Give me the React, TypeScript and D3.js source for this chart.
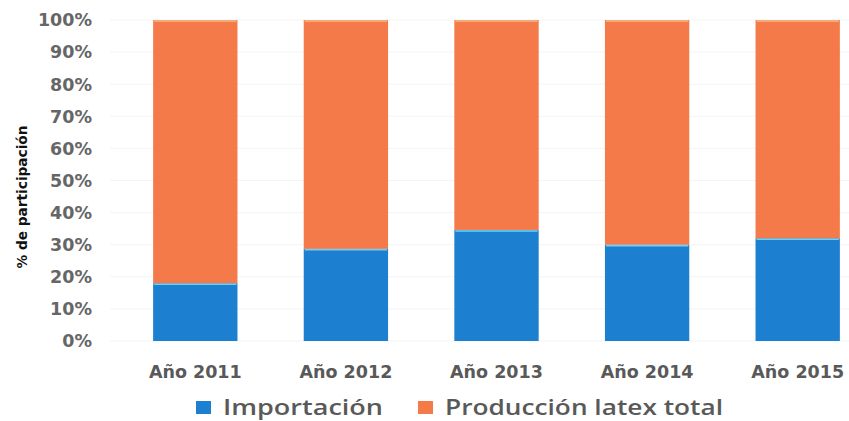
import React from "react";
import * as d3 from "d3";

const categories = ["Año 2011", "Año 2012", "Año 2013", "Año 2014", "Año 2015"];
const importacion = [18, 28.7, 34.6, 30, 32];
const produccion = importacion.map((v) => 100 - v);
const yTicks = [0, 10, 20, 30, 40, 50, 60, 70, 80, 90, 100];
const seriesNames = ["Importación", "Producción latex total"];
const colors = ["#1C7FD0", "#F47A4A"];

const W = 849;
const H = 421;

export default function App() {
  const x = d3.scaleBand<string>().domain(categories).range([120, 873]).paddingInner(0.44).paddingOuter(0.22);
  const y = d3.scaleLinear().domain([0, 100]).range([341, 20]);
  const stackData = categories.map((c, i) => ({ cat: c, imp: importacion[i], prod: produccion[i] }));
  const stack = d3.stack<any>().keys(["imp", "prod"])(stackData);
  const font = "'DejaVu Sans', Verdana, sans-serif";
  const legendFont = "'Open Sans', 'DejaVu Sans', sans-serif";
  return (
    <svg width={W} height={H} style={{ position: "absolute", left: 0, top: 0, background: "#fff" }}>
      {yTicks.map((t) => (
        <line key={"g" + t} x1={110} x2={849} y1={y(t)} y2={y(t)} stroke="#f4f4f4" strokeWidth={1} />
      ))}
      {yTicks.map((t) => (
        <text key={"t" + t} x={92} y={y(t)} dy="0.36em" textAnchor="end" fontFamily={font} fontWeight={700} fontSize={17.5} fill="#666">
          {t}%
        </text>
      ))}
      <text
        transform={`translate(27,197) rotate(-90)`}
        textAnchor="middle"
        fontFamily="'DejaVu Sans Condensed', 'DejaVu Sans', sans-serif"
        fontStretch="condensed"
        fontWeight={700}
        fontSize={14.5}
        fill="#111"
        textLength={143}
        lengthAdjust="spacingAndGlyphs"
      >
        % de participación
      </text>
      {stack.map((s, si) =>
        s.map((d, i) => (
          <g key={si + "-" + i}>
            <rect x={x(categories[i])} y={y(d[1])} width={x.bandwidth()} height={y(d[0]) - y(d[1])} fill={colors[si]} />
            <line
              x1={(x(categories[i]) as number) + 1}
              x2={(x(categories[i]) as number) + x.bandwidth() - 1}
              y1={y(d[1]) + 1}
              y2={y(d[1]) + 1}
              stroke={si === 0 ? "#6FD0F5" : "#F9B98A"}
              strokeWidth={1.5}
            />
          </g>
        ))
      )}
      {categories.map((c) => (
        <text key={c} x={(x(c) as number) + x.bandwidth() / 2} y={372} dy="0.36em" textAnchor="middle" fontFamily={font} fontWeight={700} fontSize={17.5} fill="#595959">
          {c}
        </text>
      ))}
      <rect x={196} y={401} width={15} height={13} fill={colors[0]} />
      <text x={223} y={407} dy="0.36em" fontFamily={legendFont} fontWeight={600} fontSize={22} fill="#595959" textLength={160} lengthAdjust="spacingAndGlyphs">
        {seriesNames[0]}
      </text>
      <rect x={418} y={401} width={15} height={13} fill={colors[1]} />
      <text x={445} y={407} dy="0.36em" fontFamily={legendFont} fontWeight={600} fontSize={22} fill="#595959" textLength={278} lengthAdjust="spacingAndGlyphs">
        {seriesNames[1]}
      </text>
    </svg>
  );
}
